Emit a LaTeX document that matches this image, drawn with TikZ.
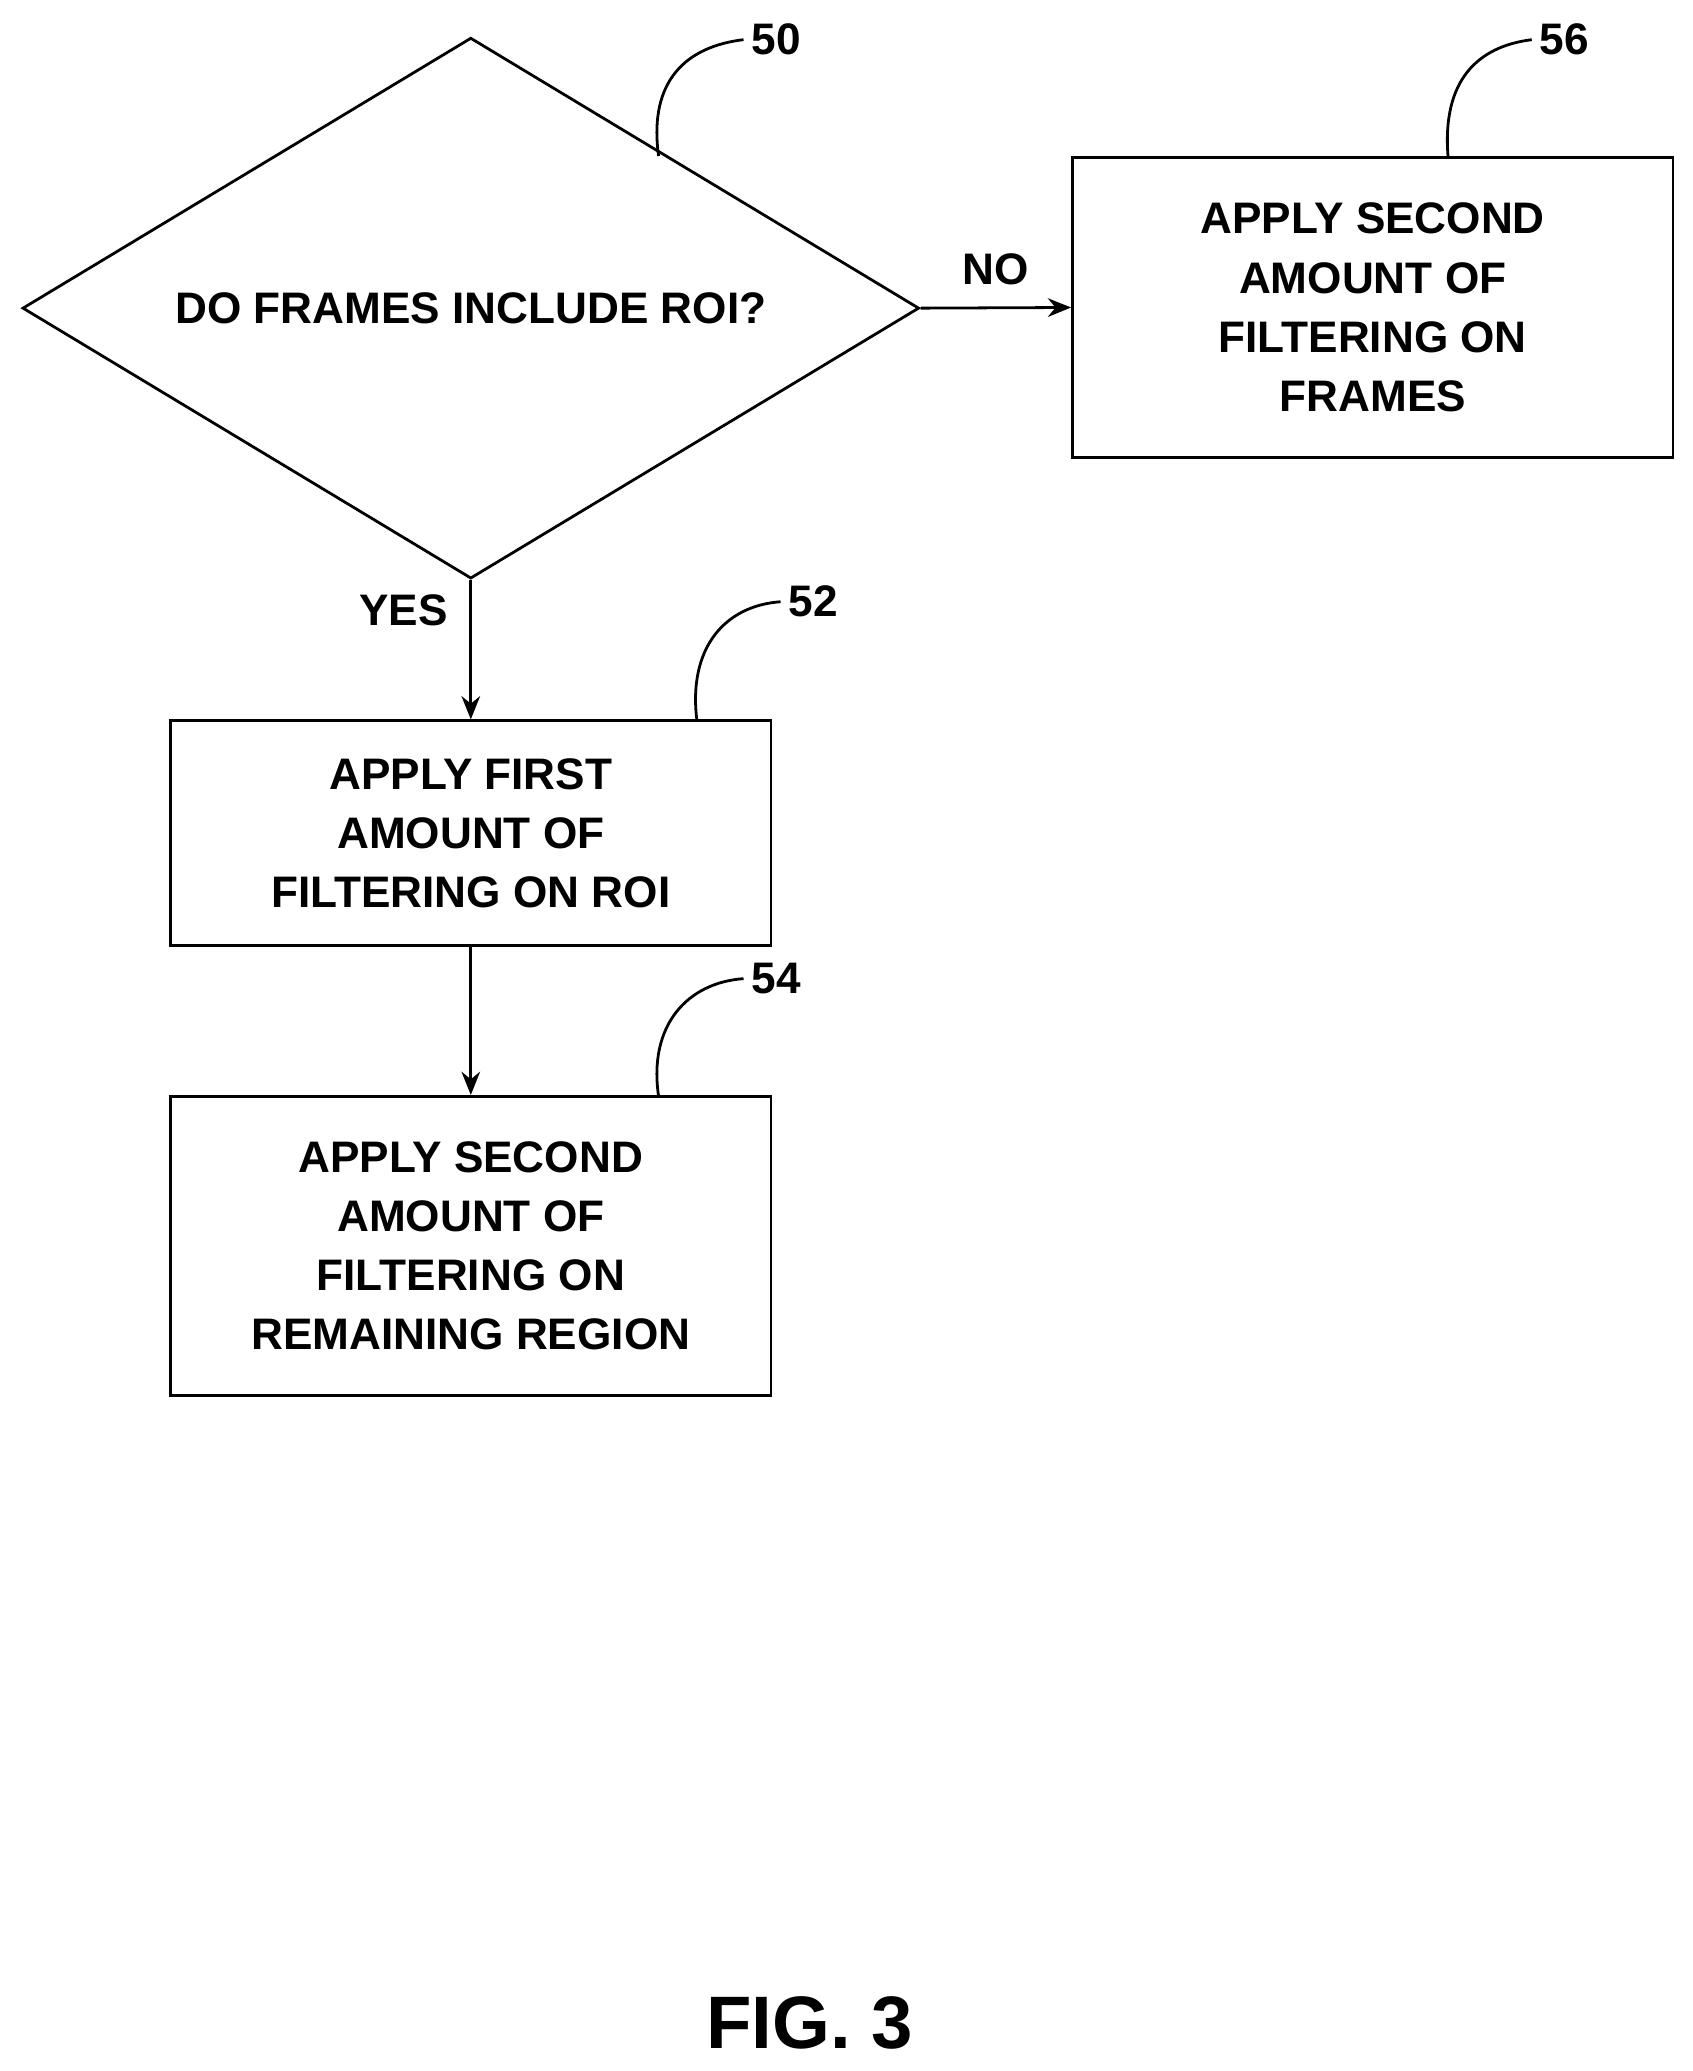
\documentclass[tikz,border=0pt]{standalone}
\usepackage{fontspec}
\setmainfont{Liberation Sans}
\usetikzlibrary{shapes.geometric,arrows.meta}
\begin{document}
\begin{tikzpicture}[x=0.02cm,y=-0.02cm,
    box/.style={draw, line width=1.2pt, font=\bfseries\fontsize{19}{25.5}\selectfont, align=center, inner sep=0pt},
    lbl/.style={font=\bfseries\fontsize{19}{22}\selectfont},
    arr/.style={-{Stealth[length=10pt,width=8pt]}, line width=1.2pt},
    lead/.style={line width=1.2pt}]
        \useasboundingbox (0,0) rectangle (1280,1566);

        \node[box, diamond, aspect=1.66, minimum width=678*0.02cm, minimum height=409*0.02cm] (roi) at (356,233) {DO FRAMES INCLUDE ROI?};
        \node[box, minimum width=454*0.02cm, minimum height=227*0.02cm] (second) at (1038,232.5) {APPLY SECOND\\AMOUNT OF\\FILTERING ON\\FRAMES};
        \node[box, minimum width=454*0.02cm, minimum height=170*0.02cm] (first) at (356,630) {APPLY FIRST\\AMOUNT OF\\FILTERING ON ROI};
        \node[box, minimum width=454*0.02cm, minimum height=226*0.02cm] (remain) at (356,942) {APPLY SECOND\\AMOUNT OF\\FILTERING ON\\REMAINING REGION};

        \draw[arr] (roi.east) -- (second.west) node[midway, above=6pt, lbl] {NO};
        \draw[arr] (roi.south) -- (first.north) node[pos=0.22, left=6pt, lbl] {YES};
        \draw[arr] (first.south) -- (remain.north);

        % reference numerals
        \node[lbl] (n50) at (587,30) {50};
        \node[lbl] (n56) at (1183,30) {56};
        \node[lbl] (n52) at (615,455) {52};
        \node[lbl] (n54) at (587,740) {54};
        \coordinate (c50) at (498,118);
        \coordinate (c56) at (1095,119);
        \coordinate (c52) at (527,545);
        \coordinate (c54) at (498,829);
        \draw[lead] (c50) .. controls (490,60) and (520,35) .. (n50.west);
        \draw[lead] (c56) .. controls (1090,60) and (1118,35) .. (n56.west);
        \draw[lead] (c52) .. controls (520,490) and (548,458) .. (n52.west);
        \draw[lead] (c54) .. controls (490,775) and (520,743) .. (n54.west);

        \node[font=\bfseries\fontsize{32}{36}\selectfont] (fig) at (612,1530) {FIG. 3};
    \end{tikzpicture}
\end{document}
